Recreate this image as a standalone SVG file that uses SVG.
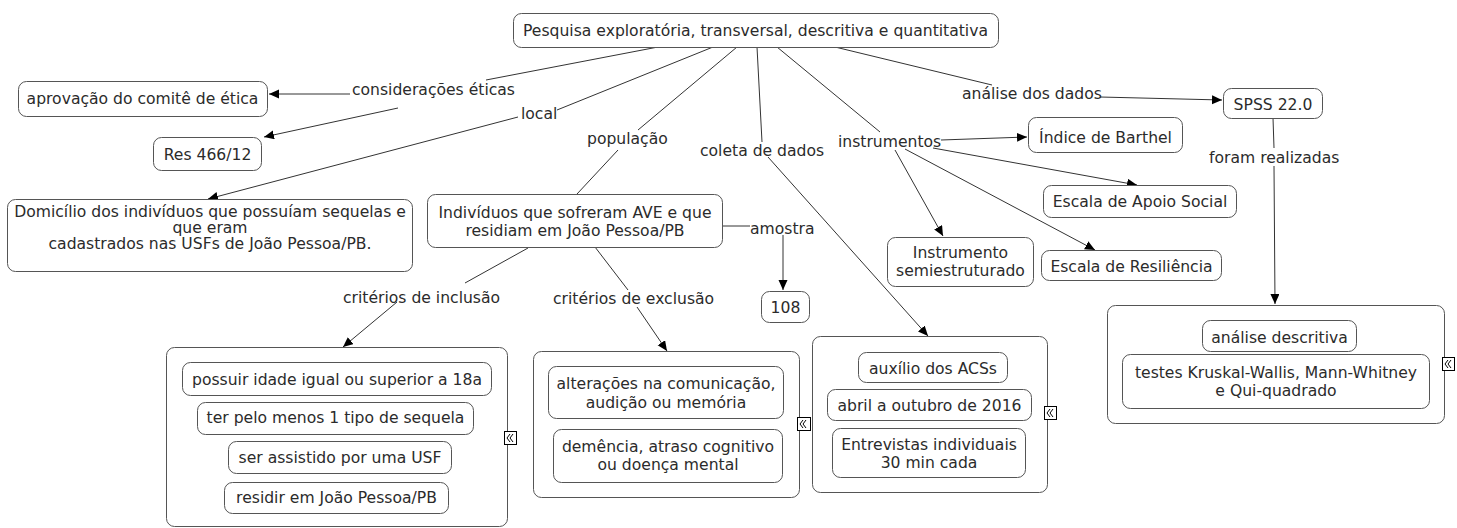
<svg xmlns="http://www.w3.org/2000/svg" width="1457" height="528" viewBox="0 0 1457 528">
<defs>
<style>
.n{fill:#fff;stroke:#555;stroke-width:1}
.t{font-family:"DejaVu Sans",Verdana,sans-serif;font-size:15.6px;fill:#2b2b2b}
.m{text-anchor:middle}
.c{stroke:#333;stroke-width:1;fill:none}
.ic{fill:#fff;stroke:#000;stroke-width:1}
.ch{fill:none;stroke:#000;stroke-width:1}
</style>
<marker id="ah" markerUnits="userSpaceOnUse" markerWidth="11" markerHeight="10" refX="10" refY="4.5" orient="auto">
<path d="M0,0 L10,4.5 L0,9 z" fill="#000"/>
</marker>
</defs>
<rect width="1457" height="528" fill="#fff"/>

<g id="connectors">
<line class="c" x1="658" y1="47" x2="486" y2="80"/>
<line class="c" x1="350" y1="94" x2="269" y2="94" marker-end="url(#ah)"/>
<line class="c" x1="398" y1="108" x2="264" y2="137" marker-end="url(#ah)"/>
<line class="c" x1="713" y1="47" x2="557" y2="110"/>
<line class="c" x1="518" y1="117" x2="208" y2="199" marker-end="url(#ah)"/>
<line class="c" x1="737" y1="47" x2="638" y2="130"/>
<line class="c" x1="618" y1="150" x2="577" y2="194"/>
<line class="c" x1="757" y1="47" x2="762" y2="142"/>
<line class="c" x1="768" y1="157" x2="928" y2="336" marker-end="url(#ah)"/>
<line class="c" x1="777" y1="47" x2="880" y2="132"/>
<line class="c" x1="941" y1="140" x2="1027" y2="137" marker-end="url(#ah)"/>
<line class="c" x1="933" y1="148" x2="1137" y2="185" marker-end="url(#ah)"/>
<line class="c" x1="905" y1="149" x2="1095" y2="250" marker-end="url(#ah)"/>
<line class="c" x1="895" y1="150" x2="943" y2="236" marker-end="url(#ah)"/>
<line class="c" x1="835" y1="47" x2="992" y2="85"/>
<line class="c" x1="1100" y1="97" x2="1222" y2="100" marker-end="url(#ah)"/>
<line class="c" x1="1273" y1="118" x2="1274" y2="148"/>
<line class="c" x1="1274" y1="166" x2="1275" y2="304" marker-end="url(#ah)"/>
<line class="c" x1="722" y1="226" x2="750" y2="226"/>
<line class="c" x1="783" y1="235" x2="783" y2="290" marker-end="url(#ah)"/>
<line class="c" x1="528" y1="248" x2="465" y2="283"/>
<line class="c" x1="397" y1="302" x2="343" y2="347" marker-end="url(#ah)"/>
<line class="c" x1="595" y1="247" x2="628" y2="290"/>
<line class="c" x1="637" y1="307" x2="667" y2="351" marker-end="url(#ah)"/>
</g>

<g id="link-labels" class="t">
<text x="352" y="94.5">considerações éticas</text>
<text x="521" y="118.5">local</text>
<text x="587" y="143.5">população</text>
<text x="700" y="155.5">coleta de dados</text>
<text x="838" y="146.5">instrumentos</text>
<text x="962" y="98.5">análise dos dados</text>
<text x="1209" y="162.5">foram realizadas</text>
<text x="750" y="233.5">amostra</text>
<text x="343" y="302.5">critérios de inclusão</text>
<text x="553" y="303.5">critérios de exclusão</text>
</g>

<g id="n-top"><rect class="n" x="513.5" y="13.5" width="485" height="34" rx="8"/><text class="t m" x="755.5" y="36">Pesquisa exploratória, transversal, descritiva e quantitativa</text></g>
<g id="n-etica"><rect class="n" x="18.5" y="81.5" width="249" height="35" rx="8"/><text class="t m" x="142.5" y="104">aprovação do comitê de ética</text></g>
<g id="n-res"><rect class="n" x="153.5" y="137.5" width="108" height="33" rx="8"/><text class="t m" x="207.5" y="159.5">Res 466/12</text></g>
<g id="n-domicilio"><rect class="n" x="7.5" y="199.5" width="405" height="72" rx="8"/>
<text class="t m" x="210" y="216.5">Domicílio dos indivíduos que possuíam sequelas e</text>
<text class="t m" x="210" y="232.5">que eram</text>
<text class="t m" x="210" y="248.5">cadastrados nas USFs de João Pessoa/PB.</text></g>
<g id="n-individuos"><rect class="n" x="427.5" y="194.5" width="295" height="53" rx="8"/>
<text class="t m" x="575" y="217.5">Indivíduos que sofreram AVE e que</text>
<text class="t m" x="575" y="235.5">residiam em João Pessoa/PB</text></g>
<g id="n-108"><rect class="n" x="761.5" y="291.5" width="48" height="31" rx="8"/><text class="t m" x="785.5" y="312.5">108</text></g>
<g id="n-semi"><rect class="n" x="887.5" y="237.5" width="146" height="49" rx="8"/>
<text class="t m" x="960.5" y="257.5">Instrumento</text>
<text class="t m" x="960.5" y="276">semiestruturado</text></g>
<g id="n-barthel"><rect class="n" x="1028.5" y="117.5" width="154" height="35" rx="8"/><text class="t m" x="1105.5" y="142.5">Índice de Barthel</text></g>
<g id="n-spss"><rect class="n" x="1223.5" y="88.5" width="99" height="30" rx="8"/><text class="t m" x="1273" y="109.5">SPSS 22.0</text></g>
<g id="n-apoio"><rect class="n" x="1043.5" y="185.5" width="193" height="32" rx="8"/><text class="t m" x="1140" y="206.5">Escala de Apoio Social</text></g>
<g id="n-resil"><rect class="n" x="1041.5" y="250.5" width="180" height="30" rx="8"/><text class="t m" x="1131.5" y="271.5">Escala de Resiliência</text></g>

<g id="n-inclusao"><rect class="n" x="166.5" y="347.5" width="341" height="179" rx="8"/>
<rect class="n" x="182.5" y="362.5" width="309" height="33" rx="8"/><text class="t m" x="337" y="384.5">possuir idade igual ou superior a 18a</text>
<rect class="n" x="197.5" y="402.5" width="276" height="32" rx="8"/><text class="t m" x="335.5" y="423">ter pelo menos 1 tipo de sequela</text>
<rect class="n" x="228.5" y="441.5" width="223" height="32" rx="8"/><text class="t m" x="340" y="462.5">ser assistido por uma USF</text>
<rect class="n" x="224.5" y="482.5" width="224" height="31" rx="8"/><text class="t m" x="336.5" y="503">residir em João Pessoa/PB</text>
<rect class="ic" x="504.5" y="431.5" width="12" height="13"/><polyline class="ch" points="510,434 507,438 510,442"/><polyline class="ch" points="513,434 510,438 513,442"/></g>

<g id="n-exclusao"><rect class="n" x="533.5" y="351.5" width="266" height="146" rx="8"/>
<rect class="n" x="548.5" y="366.5" width="235" height="52" rx="8"/><text class="t m" x="666" y="388.5">alterações na comunicação,</text><text class="t m" x="666" y="407.5">audição ou memória</text>
<rect class="n" x="553.5" y="429.5" width="229" height="53" rx="8"/><text class="t m" x="668" y="451.5">demência, atraso cognitivo</text><text class="t m" x="668" y="469.5">ou doença mental</text>
<rect class="ic" x="797.5" y="417.5" width="13" height="13"/><polyline class="ch" points="803,420 800,424 803,428"/><polyline class="ch" points="806,420 803,424 806,428"/></g>

<g id="n-coleta"><rect class="n" x="812.5" y="336.5" width="235" height="156" rx="8"/>
<rect class="n" x="858.5" y="352.5" width="149" height="30" rx="8"/><text class="t m" x="933" y="373.5">auxílio dos ACSs</text>
<rect class="n" x="827.5" y="389.5" width="204" height="31" rx="8"/><text class="t m" x="929.5" y="411">abril a outubro de 2016</text>
<rect class="n" x="832.5" y="428.5" width="193" height="49" rx="8"/><text class="t m" x="929" y="449.5">Entrevistas individuais</text><text class="t m" x="929" y="467.5">30 min cada</text>
<rect class="ic" x="1044.5" y="406.5" width="12" height="13"/><polyline class="ch" points="1050,409 1047,413 1050,417"/><polyline class="ch" points="1053,409 1050,413 1053,417"/></g>

<g id="n-analise"><rect class="n" x="1107.5" y="305.5" width="337" height="118" rx="8"/>
<rect class="n" x="1202.5" y="320.5" width="154" height="31" rx="8"/><text class="t m" x="1279.5" y="342.5">análise descritiva</text>
<rect class="n" x="1122.5" y="354.5" width="307" height="54" rx="8"/><text class="t m" x="1276" y="377.5">testes Kruskal-Wallis, Mann-Whitney</text><text class="t m" x="1276" y="395.5">e Qui-quadrado</text>
<rect class="ic" x="1442.5" y="357.5" width="12" height="13"/><polyline class="ch" points="1448,360 1445,364 1448,368"/><polyline class="ch" points="1451,360 1448,364 1451,368"/></g>
</svg>
